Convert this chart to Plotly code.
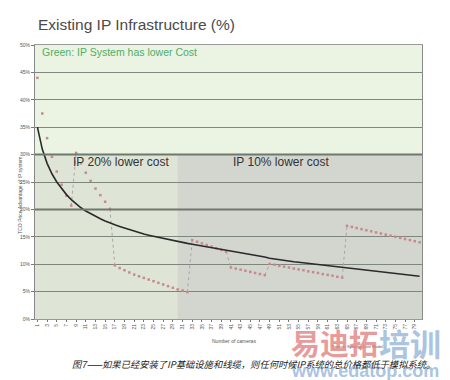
import plotly.graph_objects as go

cameras = list(range(1, 81))

existing_curve = [
    35.0, 31.0, 28.4, 26.5, 25.0, 23.8, 22.7, 21.8, 21.0, 20.3,
    19.7, 19.2, 18.7, 18.3, 17.9, 17.5, 17.2, 16.9, 16.6, 16.3,
    16.0, 15.8, 15.5, 15.3, 15.1, 14.9, 14.7, 14.5, 14.3, 14.1,
    13.95, 13.8, 13.65, 13.5, 13.35, 13.2, 13.05, 12.9, 12.75, 12.6,
    12.45, 12.3, 12.1, 11.95, 11.8, 11.6, 11.45, 11.3, 11.1, 10.95,
    10.8, 10.7, 10.6, 10.45, 10.35, 10.25, 10.1, 10.0, 9.9, 9.8,
    9.7, 9.6, 9.5, 9.4, 9.3, 9.2, 9.1, 9.0, 8.9, 8.8,
    8.7, 8.6, 8.5, 8.4, 8.3, 8.2, 8.1, 8.0, 7.9, 7.8,
]

step_values = [
    44.0, 37.5, 33.0, 29.6, 26.9, 24.5, 22.5, 20.7,
    30.3, 28.4, 26.7, 25.2, 23.8, 22.6, 21.4, 20.1,
    9.8, 9.3, 8.9, 8.5, 8.1, 7.8, 7.5, 7.2, 6.9, 6.6, 6.3, 6.0, 5.7, 5.4, 5.2, 4.9,
    14.4, 14.1, 13.8, 13.5, 13.2, 12.9, 12.6, 12.3,
    9.4, 9.2, 9.0, 8.8, 8.6, 8.4, 8.2, 8.0,
    10.05, 9.9, 9.7, 9.55, 9.4, 9.2, 9.05, 8.9, 8.7, 8.55, 8.4, 8.2, 8.05, 7.9, 7.7, 7.55,
    17.0, 16.8, 16.6, 16.4, 16.2, 16.0, 15.8, 15.6, 15.4, 15.2, 15.0, 14.8, 14.6, 14.4, 14.2, 14.0,
]

segment_starts = [9, 17, 33, 41, 49, 65]

x_tick_labels = [str(c) for c in range(1, 80, 2)]
y_tick_values = list(range(0, 51, 5))
y_tick_labels = [f"{v}%" for v in y_tick_values]

fig = go.Figure()

# background regions
fig.add_shape(type="rect", xref="x", yref="y", x0=0.5, x1=80.5, y0=30, y1=50,
              fillcolor="#ebf3e2", line_width=0, layer="below")
fig.add_shape(type="rect", xref="x", yref="y", x0=0.5, x1=29.9, y0=0, y1=30,
              fillcolor="#dfe5d6", line_width=0, layer="below")
fig.add_shape(type="rect", xref="x", yref="y", x0=29.9, x1=80.5, y0=0, y1=30,
              fillcolor="#d3d5cf", line_width=0, layer="below")

# connectors between steps
cx, cy = [], []
for s in segment_starts:
    cx += [s - 1, s, None]
    cy += [step_values[s - 2], step_values[s - 1], None]
fig.add_trace(go.Scatter(x=cx, y=cy, mode="lines",
                         line=dict(color="#a8a8a0", width=1, dash="dot"),
                         hoverinfo="skip", showlegend=False))

fig.add_trace(go.Scatter(x=cameras, y=step_values, mode="markers",
                         marker=dict(symbol="square", size=2.5, color="#c68a8a"),
                         showlegend=False))

fig.add_trace(go.Scatter(x=cameras, y=existing_curve, mode="lines",
                         line=dict(color="#2a2a2a", width=1.6),
                         showlegend=False))

W, H = 442, 372
fig.update_layout(
    width=W, height=H,
    margin=dict(l=25, r=28, t=37, b=61),
    paper_bgcolor="white", plot_bgcolor="white",
    font=dict(family="Liberation Sans, Arial, sans-serif", color="#333"),
    title=dict(text="Existing IP Infrastructure (%)", x=30 / W, xanchor="left",
               y=1 - 17 / H, yanchor="middle",
               font=dict(size=15.5, color="#4a4a4a")),
    xaxis=dict(range=[0.5, 80.5], tickmode="array",
               tickvals=[int(t) for t in x_tick_labels], ticktext=x_tick_labels,
               tickangle=-90, tickfont=dict(size=5, color="#555"),
               ticks="outside", ticklen=2, tickcolor="#777",
               showgrid=False, showline=True, linecolor="#999", mirror=True,
               zeroline=False),
    yaxis=dict(range=[0, 50], tickmode="array", tickvals=y_tick_values,
               ticktext=y_tick_labels, tickfont=dict(size=5, color="#555"),
               ticks="outside", ticklen=3, tickcolor="#777",
               showgrid=True, gridcolor="#7d877d", gridwidth=1,
               showline=True, linecolor="#888", mirror=True, zeroline=False),
)

fig.add_hline(y=20, line=dict(color="#6e786e", width=2))
fig.add_hline(y=30, line=dict(color="#6e786e", width=2))

fig.add_annotation(text="Green: IP System has lower Cost", x=1.5, y=48.8,
                   xref="x", yref="y", xanchor="left", yanchor="middle",
                   showarrow=False, font=dict(size=10.5, color="#4fae6a"))
fig.add_annotation(text="IP 20% lower cost", x=8.0, y=28.6, xref="x", yref="y",
                   xanchor="left", yanchor="middle", showarrow=False,
                   font=dict(size=12, color="#333"))
fig.add_annotation(text="IP 10% lower cost", x=41.0, y=28.6, xref="x", yref="y",
                   xanchor="left", yanchor="middle", showarrow=False,
                   font=dict(size=12, color="#333"))

fig.add_annotation(text="TCO Price Advantage of IP system", xref="paper", yref="paper",
                   x=-20 / 389, y=0.45, textangle=-90, showarrow=False,
                   font=dict(size=5, color="#555"))
fig.add_annotation(text="Number of cameras", xref="paper", yref="paper",
                   x=(233 - 33) / 389, y=-(341 - 319) / 274, yanchor="middle",
                   showarrow=False, font=dict(size=5, color="#555"))
fig.add_annotation(text="Source: Synergy Cost Model", xref="paper", yref="paper",
                   x=(385 - 33) / 389, y=-(346 - 319) / 274, yanchor="middle",
                   showarrow=False, font=dict(size=4, color="#555"))

# watermark
fig.add_annotation(text="<b>易迪拓</b>", xref="paper", yref="paper",
                   x=(288 - 33) / 389, y=-(342 - 319) / 274, xanchor="left", yanchor="middle",
                   showarrow=False, opacity=0.75,
                   font=dict(size=29, color="#e07a7a", family="Noto Sans CJK SC"))
fig.add_annotation(text="<b>培训</b>", xref="paper", yref="paper",
                   x=(377 - 33) / 389, y=-(342 - 319) / 274, xanchor="left", yanchor="middle",
                   showarrow=False, opacity=0.75,
                   font=dict(size=31, color="#8fb1d6", family="Noto Sans CJK SC"))
fig.add_annotation(text="<b>www.edatop.com</b>", xref="paper", yref="paper",
                   x=(288 - 33) / 389, y=-(371 - 319) / 274, xanchor="left", yanchor="middle",
                   showarrow=False, opacity=0.75,
                   font=dict(size=18, color="#8fb1d6", family="Liberation Sans"))

fig.add_annotation(text="图7——如果已经安装了IP基础设施和线缆，则任何时候IP系统的总价格都低于模拟系统。",
                   xref="paper", yref="paper",
                   x=(68 - 33) / 389, y=-(364 - 319) / 274, xanchor="left", yanchor="middle",
                   showarrow=False,
                   font=dict(size=9.3, color="#222", family="Noto Sans CJK SC", style="italic"))

fig.write_html("out.html")
